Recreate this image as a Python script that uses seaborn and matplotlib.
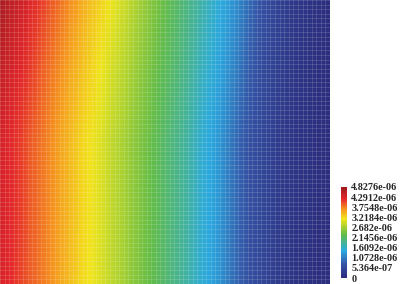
import numpy as np
import pandas as pd
import seaborn as sns
import matplotlib
matplotlib.use("Agg")
import matplotlib.pyplot as plt
from matplotlib.colors import LinearSegmentedColormap

# Field values (units of 1e-6) read along rows, left -> right, columns every ~10 px
row_top = [4.72, 4.56, 4.42, 4.27, 4.12, 3.97, 3.84, 3.69, 3.54, 3.40, 3.27, 3.12, 2.98, 2.83, 2.69, 2.54,
           2.40, 2.25, 2.11, 1.96, 1.80, 1.63, 1.48, 1.33, 1.14, 0.92, 0.72, 0.55, 0.41, 0.28, 0.19, 0.14, 0.10, 0.05]
row_upper = [4.50, 4.37, 4.24, 4.10, 3.96, 3.82, 3.68, 3.54, 3.40, 3.27, 3.13, 2.99, 2.86, 2.72, 2.58, 2.44,
             2.30, 2.15, 2.01, 1.86, 1.69, 1.53, 1.38, 1.19, 0.99, 0.78, 0.62, 0.47, 0.34, 0.23, 0.16, 0.12, 0.07, 0.05]
row_mid = [4.34, 4.22, 4.10, 3.96, 3.84, 3.70, 3.56, 3.42, 3.28, 3.16, 3.02, 2.88, 2.76, 2.62, 2.48, 2.34,
           2.20, 2.05, 1.91, 1.76, 1.58, 1.42, 1.27, 1.05, 0.84, 0.66, 0.53, 0.40, 0.28, 0.19, 0.14, 0.10, 0.05, 0.05]
row_lower = [4.34, 4.22, 4.10, 3.96, 3.84, 3.70, 3.56, 3.42, 3.28, 3.16, 3.02, 2.88, 2.76, 2.62, 2.48, 2.34,
             2.20, 2.05, 1.91, 1.76, 1.58, 1.42, 1.27, 1.05, 0.84, 0.66, 0.53, 0.40, 0.28, 0.19, 0.14, 0.10, 0.05, 0.05]
row_bottom = [4.30, 4.19, 4.07, 3.94, 3.82, 3.68, 3.54, 3.40, 3.26, 3.14, 3.00, 2.86, 2.74, 2.60, 2.46, 2.32,
              2.18, 2.03, 1.89, 1.74, 1.56, 1.40, 1.25, 1.03, 0.82, 0.64, 0.51, 0.38, 0.27, 0.18, 0.13, 0.09, 0.05, 0.05]

vmin, vmax = 0.0, 4.8276e-06
tick_values = [4.8276e-06, 4.2912e-06, 3.7548e-06, 3.2184e-06, 2.682e-06, 2.1456e-06,
               1.6092e-06, 1.0728e-06, 5.364e-07, 0.0]
tick_labels = ["4.8276e-06", "4.2912e-06", "3.7548e-06", "3.2184e-06", "2.682e-06", "2.1456e-06",
               "1.6092e-06", "1.0728e-06", "5.364e-07", "0"]

field = pd.DataFrame([row_top, row_upper, row_mid, row_lower, row_bottom]) * 1e-6

cmap = LinearSegmentedColormap.from_list("rainbow_pv", [
    (0.00, "#2b2c7c"),
    (0.15, "#3553a5"),
    (0.30, "#2aabe2"),
    (0.48, "#62bc47"),
    (0.65, "#f2e61b"),
    (0.76, "#f6931e"),
    (0.87, "#e5262b"),
    (1.00, "#9c1b1f"),
])

sns.set_style("white")
fig = plt.figure(figsize=(4.0, 2.84), dpi=100)
ax = fig.add_axes([0.0, 0.0, 330 / 400, 1.0])
cax = fig.add_axes([341 / 400, 6 / 284, 6 / 400, 91 / 284])

sns.heatmap(field, ax=ax, cmap=cmap, vmin=vmin, vmax=vmax, cbar=True, cbar_ax=cax,
            xticklabels=False, yticklabels=False, shading="gouraud", rasterized=True)
nr, nc = field.shape
ax.set_xlim(0, nc - 1)
ax.set_ylim(nr - 1, 0)
ax.axis("off")

# mesh texture
for xv in np.arange(0, nc - 1, (nc - 1) / 72):
    ax.axvline(xv, color="white", lw=0.6, alpha=0.16)
for yv in np.arange(0, nr - 1, (nr - 1) / 62):
    ax.axhline(yv, color="white", lw=0.6, alpha=0.16)

cb = ax.collections[0].colorbar
cb.outline.set_visible(False)
cb.set_ticks(tick_values)
cb.set_ticklabels(tick_labels)
cax.tick_params(length=0, pad=3, labelsize=7.3)
for t in cax.get_yticklabels():
    t.set_fontfamily("Liberation Serif")
    t.set_fontweight("bold")

fig.savefig("out.png", dpi=100)
